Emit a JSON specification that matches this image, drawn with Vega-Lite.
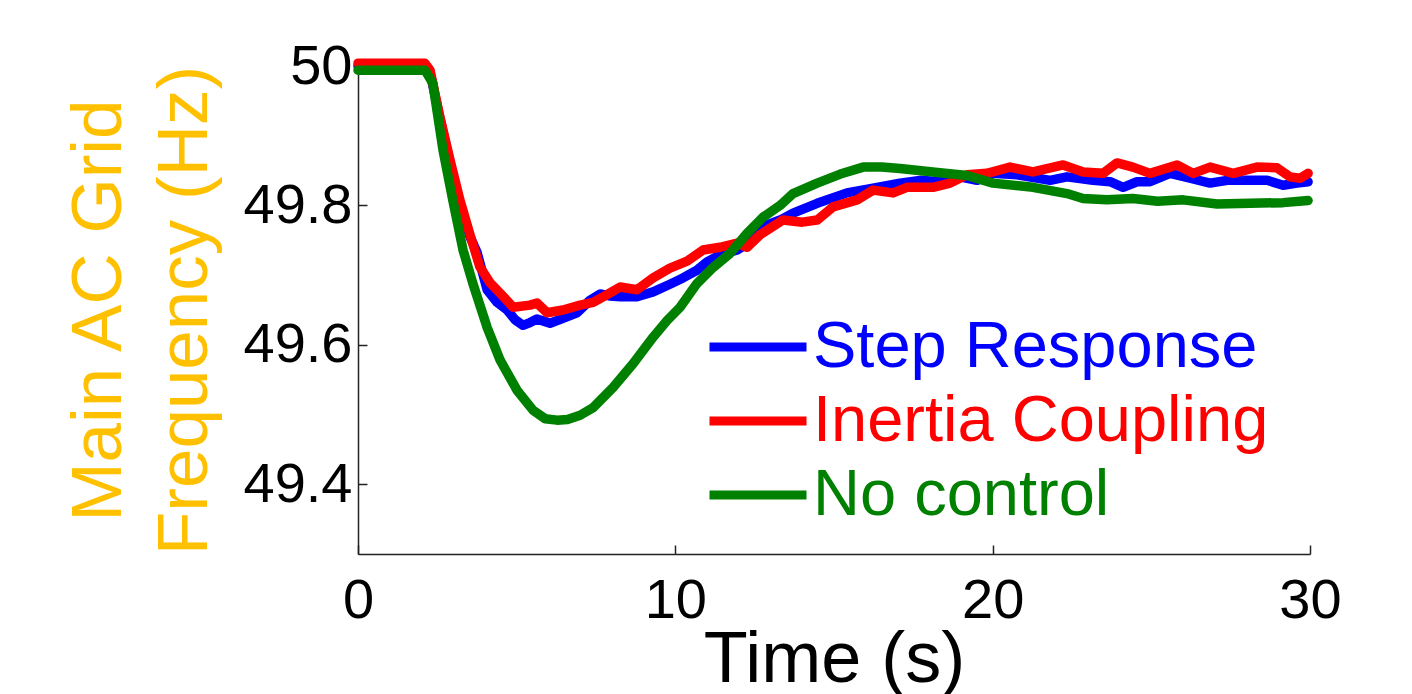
{
  "$schema": "https://vega.github.io/schema/vega-lite/v6.json",
  "autosize": "none",
  "width": 952,
  "height": 488,
  "padding": {"left": 358, "top": 66, "right": 102, "bottom": 140},
  "background": "white",
  "config": {
    "font": "Liberation Sans",
    "view": {"stroke": null},
    "axis": {"grid": false, "domainColor": "#222222", "tickColor": "#222222", "domainWidth": 1.5, "tickWidth": 1.5, "labelColor": "black", "titleFontWeight": "normal"}
  },
  "data": {
    "values": [
      {"t": 0, "f": 50.0, "s": "Step Response"},
      {"t": 1, "f": 50.0, "s": "Step Response"},
      {"t": 2.11, "f": 50.0, "s": "Step Response"},
      {"t": 2.27, "f": 49.991, "s": "Step Response"},
      {"t": 2.58, "f": 49.925, "s": "Step Response"},
      {"t": 2.9, "f": 49.862, "s": "Step Response"},
      {"t": 3.21, "f": 49.803, "s": "Step Response"},
      {"t": 3.53, "f": 49.755, "s": "Step Response"},
      {"t": 3.75, "f": 49.733, "s": "Step Response"},
      {"t": 4.07, "f": 49.679, "s": "Step Response"},
      {"t": 4.38, "f": 49.661, "s": "Step Response"},
      {"t": 4.7, "f": 49.65, "s": "Step Response"},
      {"t": 4.95, "f": 49.636, "s": "Step Response"},
      {"t": 5.2, "f": 49.628, "s": "Step Response"},
      {"t": 5.42, "f": 49.632, "s": "Step Response"},
      {"t": 5.64, "f": 49.637, "s": "Step Response"},
      {"t": 5.85, "f": 49.634, "s": "Step Response"},
      {"t": 6.05, "f": 49.631, "s": "Step Response"},
      {"t": 6.46, "f": 49.638, "s": "Step Response"},
      {"t": 6.9, "f": 49.646, "s": "Step Response"},
      {"t": 7.31, "f": 49.664, "s": "Step Response"},
      {"t": 7.63, "f": 49.673, "s": "Step Response"},
      {"t": 7.95, "f": 49.67, "s": "Step Response"},
      {"t": 8.26, "f": 49.669, "s": "Step Response"},
      {"t": 8.79, "f": 49.669, "s": "Step Response"},
      {"t": 9.3, "f": 49.676, "s": "Step Response"},
      {"t": 9.83, "f": 49.687, "s": "Step Response"},
      {"t": 10.24, "f": 49.696, "s": "Step Response"},
      {"t": 10.68, "f": 49.707, "s": "Step Response"},
      {"t": 11.0, "f": 49.719, "s": "Step Response"},
      {"t": 11.41, "f": 49.729, "s": "Step Response"},
      {"t": 11.95, "f": 49.736, "s": "Step Response"},
      {"t": 12.45, "f": 49.75, "s": "Step Response"},
      {"t": 12.89, "f": 49.772, "s": "Step Response"},
      {"t": 13.3, "f": 49.779, "s": "Step Response"},
      {"t": 13.71, "f": 49.789, "s": "Step Response"},
      {"t": 14.47, "f": 49.803, "s": "Step Response"},
      {"t": 15.41, "f": 49.818, "s": "Step Response"},
      {"t": 16.36, "f": 49.826, "s": "Step Response"},
      {"t": 17.08, "f": 49.832, "s": "Step Response"},
      {"t": 17.71, "f": 49.836, "s": "Step Response"},
      {"t": 18.34, "f": 49.834, "s": "Step Response"},
      {"t": 18.97, "f": 49.841, "s": "Step Response"},
      {"t": 19.51, "f": 49.836, "s": "Step Response"},
      {"t": 20.01, "f": 49.846, "s": "Step Response"},
      {"t": 20.77, "f": 49.844, "s": "Step Response"},
      {"t": 21.81, "f": 49.836, "s": "Step Response"},
      {"t": 22.34, "f": 49.841, "s": "Step Response"},
      {"t": 23.16, "f": 49.836, "s": "Step Response"},
      {"t": 23.7, "f": 49.834, "s": "Step Response"},
      {"t": 24.11, "f": 49.826, "s": "Step Response"},
      {"t": 24.55, "f": 49.834, "s": "Step Response"},
      {"t": 24.96, "f": 49.834, "s": "Step Response"},
      {"t": 25.59, "f": 49.846, "s": "Step Response"},
      {"t": 26.22, "f": 49.839, "s": "Step Response"},
      {"t": 26.85, "f": 49.832, "s": "Step Response"},
      {"t": 27.39, "f": 49.836, "s": "Step Response"},
      {"t": 27.89, "f": 49.836, "s": "Step Response"},
      {"t": 28.65, "f": 49.836, "s": "Step Response"},
      {"t": 29.15, "f": 49.829, "s": "Step Response"},
      {"t": 29.59, "f": 49.832, "s": "Step Response"},
      {"t": 29.94, "f": 49.834, "s": "Step Response"},

      {"t": 0, "f": 50.004, "s": "Inertia Coupling"},
      {"t": 1, "f": 50.004, "s": "Inertia Coupling"},
      {"t": 2.11, "f": 50.004, "s": "Inertia Coupling"},
      {"t": 2.27, "f": 49.994, "s": "Inertia Coupling"},
      {"t": 2.58, "f": 49.927, "s": "Inertia Coupling"},
      {"t": 2.9, "f": 49.865, "s": "Inertia Coupling"},
      {"t": 3.21, "f": 49.808, "s": "Inertia Coupling"},
      {"t": 3.53, "f": 49.758, "s": "Inertia Coupling"},
      {"t": 3.84, "f": 49.712, "s": "Inertia Coupling"},
      {"t": 4.16, "f": 49.689, "s": "Inertia Coupling"},
      {"t": 4.48, "f": 49.674, "s": "Inertia Coupling"},
      {"t": 4.89, "f": 49.654, "s": "Inertia Coupling"},
      {"t": 5.42, "f": 49.657, "s": "Inertia Coupling"},
      {"t": 5.64, "f": 49.66, "s": "Inertia Coupling"},
      {"t": 5.96, "f": 49.646, "s": "Inertia Coupling"},
      {"t": 6.46, "f": 49.65, "s": "Inertia Coupling"},
      {"t": 7.0, "f": 49.657, "s": "Inertia Coupling"},
      {"t": 7.41, "f": 49.661, "s": "Inertia Coupling"},
      {"t": 7.85, "f": 49.672, "s": "Inertia Coupling"},
      {"t": 8.26, "f": 49.683, "s": "Inertia Coupling"},
      {"t": 8.79, "f": 49.679, "s": "Inertia Coupling"},
      {"t": 9.3, "f": 49.696, "s": "Inertia Coupling"},
      {"t": 9.83, "f": 49.71, "s": "Inertia Coupling"},
      {"t": 10.37, "f": 49.72, "s": "Inertia Coupling"},
      {"t": 10.87, "f": 49.736, "s": "Inertia Coupling"},
      {"t": 11.41, "f": 49.74, "s": "Inertia Coupling"},
      {"t": 11.95, "f": 49.746, "s": "Inertia Coupling"},
      {"t": 12.26, "f": 49.74, "s": "Inertia Coupling"},
      {"t": 12.67, "f": 49.758, "s": "Inertia Coupling"},
      {"t": 13.39, "f": 49.779, "s": "Inertia Coupling"},
      {"t": 14.0, "f": 49.776, "s": "Inertia Coupling"},
      {"t": 14.47, "f": 49.779, "s": "Inertia Coupling"},
      {"t": 14.97, "f": 49.798, "s": "Inertia Coupling"},
      {"t": 15.73, "f": 49.808, "s": "Inertia Coupling"},
      {"t": 16.23, "f": 49.822, "s": "Inertia Coupling"},
      {"t": 16.86, "f": 49.818, "s": "Inertia Coupling"},
      {"t": 17.3, "f": 49.826, "s": "Inertia Coupling"},
      {"t": 18.12, "f": 49.826, "s": "Inertia Coupling"},
      {"t": 18.66, "f": 49.832, "s": "Inertia Coupling"},
      {"t": 19.19, "f": 49.844, "s": "Inertia Coupling"},
      {"t": 19.82, "f": 49.846, "s": "Inertia Coupling"},
      {"t": 20.55, "f": 49.855, "s": "Inertia Coupling"},
      {"t": 21.27, "f": 49.848, "s": "Inertia Coupling"},
      {"t": 22.22, "f": 49.858, "s": "Inertia Coupling"},
      {"t": 22.85, "f": 49.848, "s": "Inertia Coupling"},
      {"t": 23.48, "f": 49.846, "s": "Inertia Coupling"},
      {"t": 23.92, "f": 49.861, "s": "Inertia Coupling"},
      {"t": 24.42, "f": 49.855, "s": "Inertia Coupling"},
      {"t": 24.96, "f": 49.846, "s": "Inertia Coupling"},
      {"t": 25.81, "f": 49.858, "s": "Inertia Coupling"},
      {"t": 26.32, "f": 49.846, "s": "Inertia Coupling"},
      {"t": 26.85, "f": 49.855, "s": "Inertia Coupling"},
      {"t": 27.58, "f": 49.846, "s": "Inertia Coupling"},
      {"t": 28.33, "f": 49.855, "s": "Inertia Coupling"},
      {"t": 28.96, "f": 49.854, "s": "Inertia Coupling"},
      {"t": 29.37, "f": 49.841, "s": "Inertia Coupling"},
      {"t": 29.69, "f": 49.839, "s": "Inertia Coupling"},
      {"t": 29.94, "f": 49.846, "s": "Inertia Coupling"},

      {"t": 0, "f": 49.994, "s": "No control"},
      {"t": 1, "f": 49.994, "s": "No control"},
      {"t": 2.11, "f": 49.994, "s": "No control"},
      {"t": 2.36, "f": 49.975, "s": "No control"},
      {"t": 2.68, "f": 49.879, "s": "No control"},
      {"t": 2.99, "f": 49.807, "s": "No control"},
      {"t": 3.31, "f": 49.736, "s": "No control"},
      {"t": 3.62, "f": 49.688, "s": "No control"},
      {"t": 4.07, "f": 49.625, "s": "No control"},
      {"t": 4.48, "f": 49.578, "s": "No control"},
      {"t": 5.01, "f": 49.535, "s": "No control"},
      {"t": 5.52, "f": 49.506, "s": "No control"},
      {"t": 5.9, "f": 49.494, "s": "No control"},
      {"t": 6.27, "f": 49.492, "s": "No control"},
      {"t": 6.6, "f": 49.493, "s": "No control"},
      {"t": 7.0, "f": 49.499, "s": "No control"},
      {"t": 7.41, "f": 49.51, "s": "No control"},
      {"t": 8.04, "f": 49.539, "s": "No control"},
      {"t": 8.67, "f": 49.573, "s": "No control"},
      {"t": 9.3, "f": 49.611, "s": "No control"},
      {"t": 9.74, "f": 49.635, "s": "No control"},
      {"t": 10.15, "f": 49.654, "s": "No control"},
      {"t": 10.68, "f": 49.688, "s": "No control"},
      {"t": 11.19, "f": 49.711, "s": "No control"},
      {"t": 11.72, "f": 49.731, "s": "No control"},
      {"t": 12.26, "f": 49.76, "s": "No control"},
      {"t": 12.76, "f": 49.783, "s": "No control"},
      {"t": 13.3, "f": 49.8, "s": "No control"},
      {"t": 13.71, "f": 49.817, "s": "No control"},
      {"t": 14.47, "f": 49.832, "s": "No control"},
      {"t": 15.2, "f": 49.845, "s": "No control"},
      {"t": 15.92, "f": 49.855, "s": "No control"},
      {"t": 16.5, "f": 49.855, "s": "No control"},
      {"t": 17.08, "f": 49.853, "s": "No control"},
      {"t": 18.34, "f": 49.847, "s": "No control"},
      {"t": 19.19, "f": 49.843, "s": "No control"},
      {"t": 20.01, "f": 49.832, "s": "No control"},
      {"t": 21.27, "f": 49.826, "s": "No control"},
      {"t": 22.34, "f": 49.817, "s": "No control"},
      {"t": 22.85, "f": 49.81, "s": "No control"},
      {"t": 23.6, "f": 49.808, "s": "No control"},
      {"t": 24.42, "f": 49.81, "s": "No control"},
      {"t": 25.2, "f": 49.806, "s": "No control"},
      {"t": 26.0, "f": 49.808, "s": "No control"},
      {"t": 27.07, "f": 49.802, "s": "No control"},
      {"t": 28.11, "f": 49.803, "s": "No control"},
      {"t": 29.15, "f": 49.804, "s": "No control"},
      {"t": 29.94, "f": 49.807, "s": "No control"}
    ]
  },
  "mark": {"type": "line", "strokeWidth": 9.5, "strokeCap": "round", "strokeJoin": "round", "clip": false},
  "encoding": {
    "x": {
      "field": "t", "type": "quantitative",
      "scale": {"domain": [0, 30], "nice": false, "zero": false},
      "axis": {"values": [0, 10, 20, 30], "title": "Time (s)", "titleFontSize": 72, "titleColor": "black", "titlePadding": -4, "labelFontSize": 56, "labelPadding": 28, "tickSize": -9, "labelFlush": false}
    },
    "y": {
      "field": "f", "type": "quantitative",
      "scale": {"domain": [49.3, 50.0], "nice": false, "zero": false},
      "axis": {"values": [49.4, 49.6, 49.8, 50.0], "format": "~f", "title": ["Main AC Grid", "Frequency (Hz)"], "titleColor": "#FFC000", "titleFontSize": 71, "titleLineHeight": 86, "titlePadding": 22, "labelFontSize": 56, "labelPadding": 15, "tickSize": -9, "labelFlush": false}
    },
    "color": {
      "field": "s", "type": "nominal",
      "scale": {"domain": ["Step Response", "Inertia Coupling", "No control"], "range": ["#0000FF", "#FF0000", "#008000"]},
      "legend": {
        "title": null, "orient": "none", "legendX": 347, "legendY": 244,
        "symbolType": "stroke", "symbolSize": 9409, "symbolStrokeWidth": 9,
        "labelFontSize": 65, "labelOffset": 2, "rowPadding": 0, "clipHeight": 74, "padding": 0, "labelLimit": 1000,
        "encode": {"labels": {"update": {"fill": {"scale": "color", "field": "value"}}}}
      }
    }
  }
}
